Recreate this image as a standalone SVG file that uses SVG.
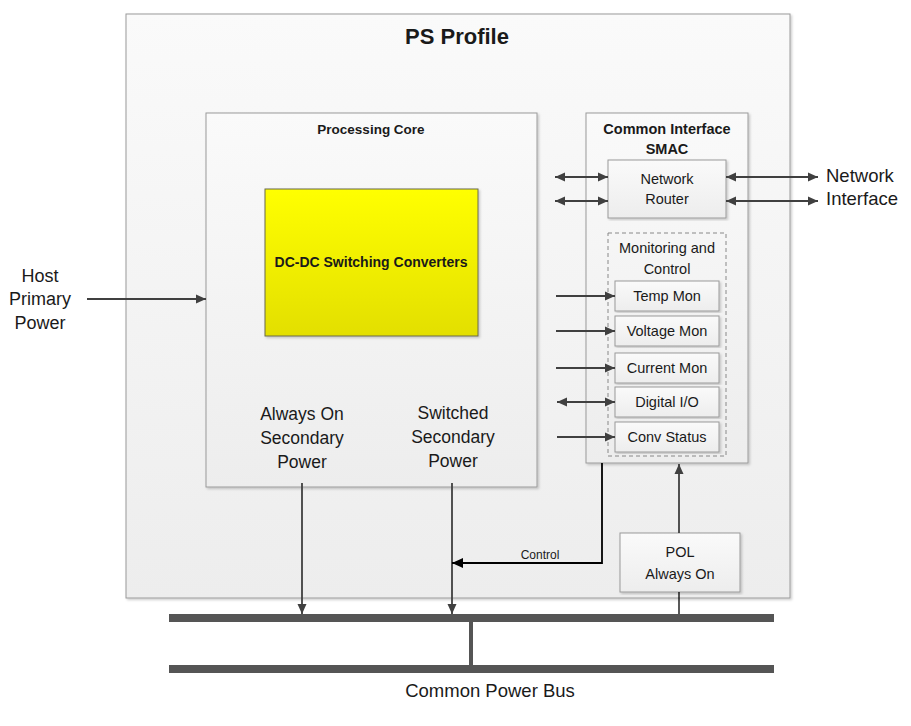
<svg xmlns="http://www.w3.org/2000/svg" width="911" height="726" viewBox="0 0 911 726">
<style>
text{font-family:"Liberation Sans",Arial,sans-serif;fill:#1a1a1a}
.t{font-size:17.5px;text-anchor:middle}
.s{font-size:14.5px;text-anchor:middle}
.b{font-weight:bold}
.box{fill:url(#g);stroke:#9a9a9a;stroke-width:1}
.ln{stroke:#404040;stroke-width:1.8;fill:none}
.bus{stroke:#555;stroke-width:8;fill:none}
</style>
<defs>
<linearGradient id="g" x1="0" y1="0" x2="0" y2="1"><stop offset="0" stop-color="#fafafa"/><stop offset="1" stop-color="#ededed"/></linearGradient>
<linearGradient id="y" x1="0" y1="0" x2="0" y2="1"><stop offset="0" stop-color="#ffff00"/><stop offset="1" stop-color="#e3df00"/></linearGradient>
<filter id="sh" x="-5%" y="-5%" width="110%" height="110%"><feDropShadow dx="1.5" dy="1.5" stdDeviation="1" flood-color="#000" flood-opacity="0.2"/></filter>
<marker id="a" viewBox="0 0 10 10" refX="10" refY="5" markerWidth="10" markerHeight="10" markerUnits="userSpaceOnUse" orient="auto-start-reverse"><path d="M0,0.5L10,5L0,9.5z" fill="#404040"/></marker>
<marker id="ak" viewBox="0 0 10 10" refX="10" refY="5" markerWidth="11" markerHeight="11" markerUnits="userSpaceOnUse" orient="auto"><path d="M0,0.5L10,5L0,9.5z" fill="#000"/></marker>
</defs>
<rect width="911" height="726" fill="#fff"/>
<g id="ps-profile">
<rect class="box" x="126" y="14" width="664" height="584" filter="url(#sh)"/>
<text x="457" y="44" font-size="22" class="b" text-anchor="middle">PS Profile</text>
</g>
<g id="processing-core">
<rect class="box" x="206" y="113" width="331" height="374" filter="url(#sh)"/>
<text x="371" y="134" font-size="13.5" class="b" text-anchor="middle">Processing Core</text>
<text class="t"><tspan x="302" y="420">Always On</tspan><tspan x="302" y="444">Secondary</tspan><tspan x="302" y="468">Power</tspan></text>
<text class="t"><tspan x="453" y="419">Switched</tspan><tspan x="453" y="443">Secondary</tspan><tspan x="453" y="467">Power</tspan></text>
</g>
<g id="dcdc">
<rect x="265" y="189" width="213" height="147" fill="url(#y)" stroke="#6b6b4a" stroke-width="1" filter="url(#sh)"/>
<text x="371" y="267" class="b" font-size="14" text-anchor="middle">DC-DC Switching Converters</text>
</g>
<g id="common-interface">
<rect class="box" x="586" y="113" width="162" height="350" filter="url(#sh)"/>
<text x="667" y="134" font-size="14.5" class="b" text-anchor="middle">Common Interface</text>
<text x="667" y="154" font-size="14.5" class="b" text-anchor="middle">SMAC</text>
</g>
<g id="network-router">
<rect class="box" x="608" y="160" width="118" height="58" filter="url(#sh)"/>
<text class="s"><tspan x="667" y="184">Network</tspan><tspan x="667" y="204">Router</tspan></text>
</g>
<g id="monitoring">
<rect x="608" y="233" width="118" height="223" fill="none" stroke="#888" stroke-dasharray="4,3"/>
<text class="s"><tspan x="667" y="253">Monitoring and</tspan><tspan x="667" y="274">Control</tspan></text>
</g>
<g id="temp-mon"><rect class="box" x="615" y="281" width="104" height="30" filter="url(#sh)"/><text x="667" y="301" class="s">Temp Mon</text></g>
<g id="voltage-mon"><rect class="box" x="615" y="316" width="104" height="30" filter="url(#sh)"/><text x="667" y="336" class="s">Voltage Mon</text></g>
<g id="current-mon"><rect class="box" x="615" y="353" width="104" height="30" filter="url(#sh)"/><text x="667" y="373" class="s">Current Mon</text></g>
<g id="digital-io"><rect class="box" x="615" y="387" width="104" height="30" filter="url(#sh)"/><text x="667" y="407" class="s">Digital I/O</text></g>
<g id="conv-status"><rect class="box" x="615" y="422" width="104" height="30" filter="url(#sh)"/><text x="667" y="442" class="s">Conv Status</text></g>
<g id="pol">
<rect class="box" x="620" y="533" width="120" height="59" filter="url(#sh)"/>
<text class="s"><tspan x="680" y="557">POL</tspan><tspan x="680" y="579">Always On</tspan></text>
</g>
<g id="labels">
<text font-size="18" text-anchor="middle"><tspan x="40" y="282">Host</tspan><tspan x="40" y="305">Primary</tspan><tspan x="40" y="329">Power</tspan></text>
<text font-size="18.5"><tspan x="826" y="182">Network</tspan><tspan x="826" y="205">Interface</tspan></text>
<text x="490" y="697" font-size="18.5" text-anchor="middle">Common Power Bus</text>
</g>
<g id="connectors">
<line class="ln" x1="87" y1="299" x2="206" y2="299" marker-end="url(#a)"/>
<line class="ln" x1="555" y1="177" x2="608" y2="177" marker-start="url(#a)" marker-end="url(#a)"/>
<line class="ln" x1="555" y1="201" x2="608" y2="201" marker-start="url(#a)" marker-end="url(#a)"/>
<line class="ln" x1="726" y1="177" x2="818" y2="177" marker-start="url(#a)" marker-end="url(#a)"/>
<line class="ln" x1="726" y1="201" x2="818" y2="201" marker-start="url(#a)" marker-end="url(#a)"/>
<line class="ln" x1="556" y1="296" x2="615" y2="296" marker-end="url(#a)"/>
<line class="ln" x1="556" y1="331" x2="615" y2="331" marker-end="url(#a)"/>
<line class="ln" x1="556" y1="368" x2="615" y2="368" marker-end="url(#a)"/>
<line class="ln" x1="557" y1="402" x2="615" y2="402" marker-start="url(#a)" marker-end="url(#a)"/>
<line class="ln" x1="557" y1="437" x2="615" y2="437" marker-end="url(#a)"/>
<line class="ln" x1="302" y1="483" x2="302" y2="614" marker-end="url(#a)"/>
<line class="ln" x1="452" y1="483" x2="452" y2="614" marker-end="url(#a)"/>
<polyline points="602,463 602,563 452,563" fill="none" stroke="#000" stroke-width="1.8" marker-end="url(#ak)"/>
<text x="540" y="559" font-size="12" text-anchor="middle">Control</text>
<line class="ln" x1="679" y1="533" x2="679" y2="464" marker-end="url(#a)"/>
<line stroke="#000" stroke-width="1.3" x1="679" y1="592" x2="679" y2="614"/>
<line class="bus" x1="169" y1="618" x2="774" y2="618"/>
<line class="bus" x1="169" y1="669" x2="774" y2="669"/>
<line stroke="#555" stroke-width="4" x1="471" y1="618" x2="471" y2="669"/>
</g>
</svg>
